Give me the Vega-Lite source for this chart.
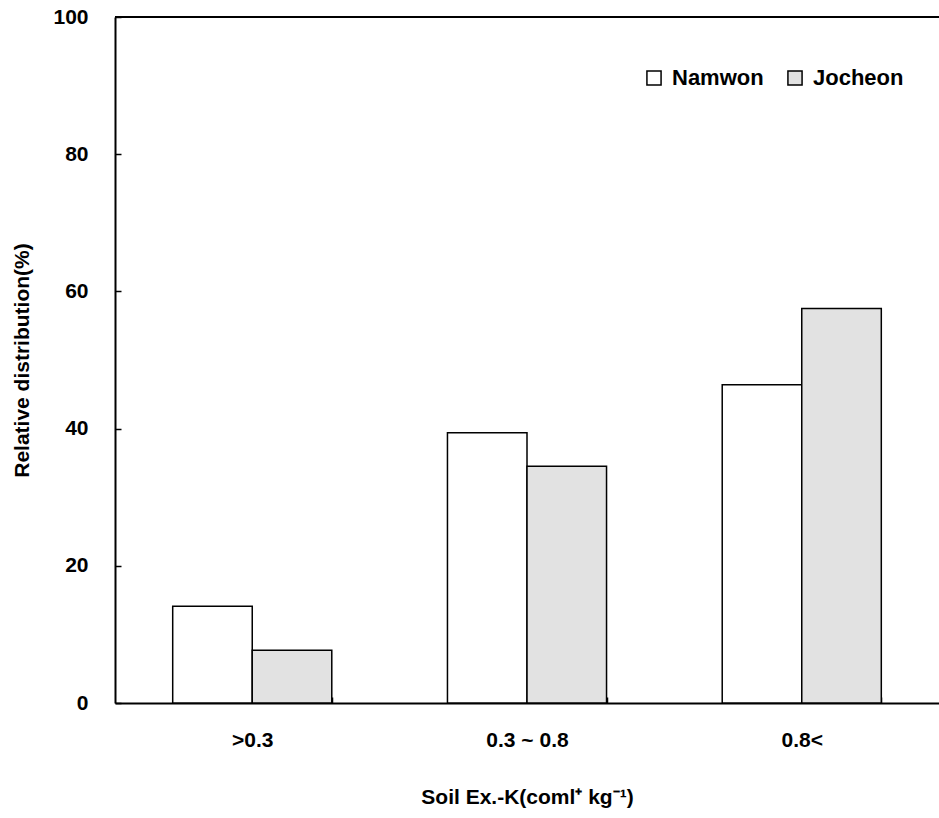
{
  "$schema": "https://vega.github.io/schema/vega-lite/v6.json",
  "width": 824,
  "height": 686,
  "autosize": {"type": "none"},
  "padding": {"left": 115, "top": 17, "right": 0, "bottom": 115},
  "background": "white",
  "config": {
    "font": "Liberation Sans",
    "view": {"stroke": null}
  },
  "data": {
    "values": [
      {"range": ">0.3", "site": "Namwon", "value": 14.1},
      {"range": ">0.3", "site": "Jocheon", "value": 7.7},
      {"range": "0.3 ~ 0.8", "site": "Namwon", "value": 39.4},
      {"range": "0.3 ~ 0.8", "site": "Jocheon", "value": 34.5},
      {"range": "0.8<", "site": "Namwon", "value": 46.4},
      {"range": "0.8<", "site": "Jocheon", "value": 57.5}
    ]
  },
  "layer": [
    {
      "mark": {"type": "bar", "stroke": "black", "strokeWidth": 1.5},
      "encoding": {
        "x": {
          "field": "range",
          "type": "nominal",
          "sort": [">0.3", "0.3 ~ 0.8", "0.8<"],
          "scale": {"paddingInner": 0.421, "paddingOuter": 0.21},
          "title": "Soil Ex.-K(coml⁺ kg⁻¹)",
          "axis": {
            "labelAngle": 0,
            "tickBand": "extent",
            "tickSize": -6,
            "tickColor": "black",
            "tickWidth": 1.5,
            "domainColor": "black",
            "domainWidth": 2,
            "labelFontSize": 21,
            "labelFontWeight": "bold",
            "labelColor": "black",
            "labelPadding": 32,
            "titleFontSize": 21,
            "titleFontWeight": "bold",
            "titleColor": "black",
            "titlePadding": 36
          }
        },
        "xOffset": {
          "field": "site",
          "sort": ["Namwon", "Jocheon"],
          "scale": {"padding": 0, "paddingInner": 0, "paddingOuter": 0}
        },
        "y": {
          "field": "value",
          "type": "quantitative",
          "scale": {"domain": [0, 100], "nice": false},
          "title": "Relative distribution(%)",
          "axis": {
            "values": [0, 20, 40, 60, 80, 100],
            "grid": false,
            "tickSize": -6,
            "tickColor": "black",
            "tickWidth": 1.5,
            "domainColor": "black",
            "domainWidth": 2,
            "labelFontSize": 21,
            "labelFontWeight": "bold",
            "labelColor": "black",
            "labelPadding": 33,
            "titleFontSize": 21,
            "titleFontWeight": "bold",
            "titleColor": "black",
            "titlePadding": 20
          }
        },
        "fill": {
          "field": "site",
          "type": "nominal",
          "sort": ["Namwon", "Jocheon"],
          "scale": {"domain": ["Namwon", "Jocheon"], "range": ["#ffffff", "#e2e2e2"]},
          "legend": {
            "orient": "none",
            "legendX": 528,
            "legendY": 50,
            "direction": "horizontal",
            "title": null,
            "symbolType": "square",
            "symbolSize": 200,
            "symbolStrokeColor": "black",
            "symbolStrokeWidth": 1.5,
            "symbolOpacity": 1,
            "labelFont": "Liberation Sans",
            "labelFontSize": 22,
            "labelFontWeight": "bold",
            "labelColor": "black",
            "labelOffset": 7,
            "columnPadding": 20
          }
        }
      }
    },
    {
      "data": {"values": [{}]},
      "mark": {"type": "rule", "stroke": "black", "strokeWidth": 2},
      "encoding": {"y": {"datum": 100}}
    }
  ]
}
